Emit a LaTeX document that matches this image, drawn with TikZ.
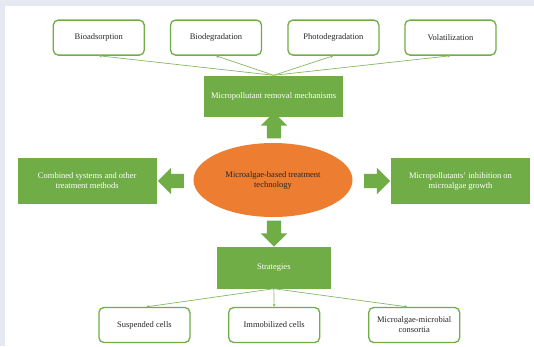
\documentclass[tikz,border=0pt]{standalone}
\usepackage{fontspec}
\setmainfont{Liberation Serif}
\usetikzlibrary{shapes.geometric,shapes.arrows,arrows.meta}
\definecolor{leaf}{HTML}{70AD47}
\definecolor{carrot}{HTML}{ED7D31}
\definecolor{frame}{HTML}{E6E9F2}

\begin{document}
\begin{tikzpicture}[x=1pt,y=-1pt,
  font=\fontsize{8.5}{10}\selectfont,
  leafbox/.style={fill=leaf,text=white,align=center,inner sep=2pt},
  roundbox/.style={draw=leaf,line width=1.3pt,rounded corners=5pt,fill=white,
    text=black!85,minimum width=91pt,minimum height=35pt,align=center,inner sep=2pt},
  fatarrow/.style={single arrow,fill=leaf,inner xsep=0pt,inner ysep=7pt,
    single arrow head extend=6pt,minimum height=26pt},
  link/.style={draw=leaf!85,line width=0.7pt,-{Stealth[length=3pt,width=3pt]}}]
\fill[frame] (0,0) rectangle (534,346);
\fill[white] (5,6) rectangle (534,346);
\useasboundingbox (0,0) rectangle (534,346);

% centre
\node [ellipse,fill=carrot,text=black!85,align=center,inner sep=0pt,
  minimum width=159pt,minimum height=74pt] (core) at (273,180)
  {Microalgae-based treatment\\technology};

% four green boxes
\node [leafbox,minimum width=139pt,minimum height=41pt] (mech) at (273.7,96)
  {Micropollutant removal mechanisms};
\node [leafbox,minimum width=139pt,minimum height=46pt] (combo) at (87.2,181)
  {Combined systems and other\\treatment methods};
\node [leafbox,minimum width=139pt,minimum height=46pt] (inhib) at (460.5,181)
  {Micropollutants' inhibition on\\microalgae growth};
\node [leafbox,minimum width=114.5pt,minimum height=42pt] (strat) at (273.8,267.5)
  {Strategies};

% block arrows
\node [fatarrow,rotate=90] (toMech) at (274,129) {};
\node [fatarrow,rotate=-90] (toStrat) at (274,230) {};
\node [fatarrow,rotate=180] (toCombo) at (174.5,181) {};
\node [fatarrow] (toInhib) at (373.5,181) {};

% mechanisms
\foreach \name/\x/\txt in {bioad/98.8/Bioadsorption,biodeg/216/Biodegradation,
    photo/333.4/Photodegradation,vola/450.4/Volatilization}
  \node [roundbox] (\name) at (\x,37.6) {\txt};
\foreach \name in {bioad,biodeg,photo,vola}
  \draw [link] (mech.north) -- (\name.south);

% strategies
\node [roundbox] (susp) at (144.4,325) {Suspended cells};
\node [roundbox] (immo) at (274.2,325) {Immobilized cells};
\node [roundbox] (cons) at (414.2,325) {Microalgae-microbial\\consortia};
\draw [link] (strat.south) -- ([xshift=2pt]susp.north);
\draw [link] (strat.south) -- (immo.north);
\draw [link] (strat.south) -- ([xshift=-7pt]cons.north);
\end{tikzpicture}
\end{document}
